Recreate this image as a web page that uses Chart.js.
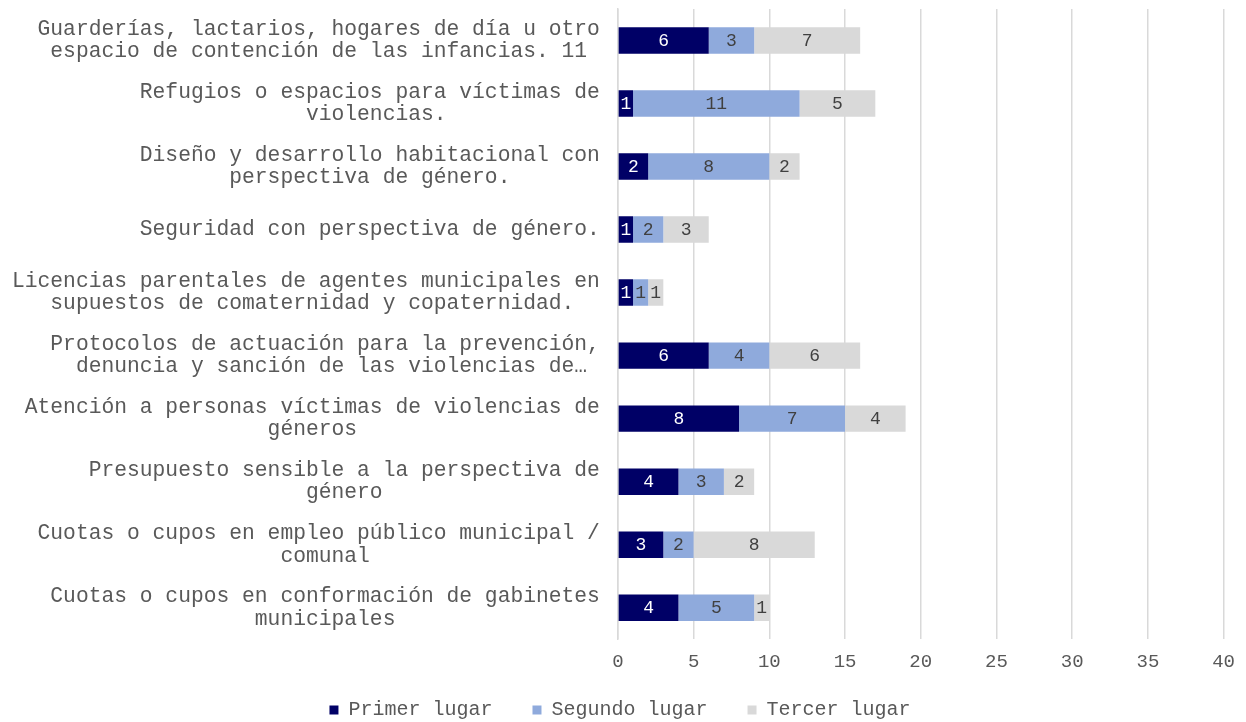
<!DOCTYPE html>
<html>
<head>
<meta charset="utf-8">
<script src="https://cdn.jsdelivr.net/npm/chart.js@4/dist/chart.umd.min.js"></script>
<style>
  html, body { margin: 0; padding: 0; background: #ffffff; }
  #wrap { width: 1246px; height: 722px; position: relative; }
</style>
</head>
<body>
<div id="wrap"><canvas id="c" width="1246" height="722"></canvas></div>
<script>
const categories = [
  ["Guarderías, lactarios, hogares de día u otro", "espacio de contención de las infancias. 11"],
  ["Refugios o espacios para víctimas de", "violencias."],
  ["Diseño y desarrollo habitacional con", "perspectiva de género."],
  ["Seguridad con perspectiva de género."],
  ["Licencias parentales de agentes municipales en", "supuestos de comaternidad y copaternidad."],
  ["Protocolos de actuación para la prevención,", "denuncia y sanción de las violencias de…"],
  ["Atención a personas víctimas de violencias de", "géneros"],
  ["Presupuesto sensible a la perspectiva de", "género"],
  ["Cuotas o cupos en empleo público municipal /", "comunal"],
  ["Cuotas o cupos en conformación de gabinetes", "municipales"]
];
const seriesNames = ["Primer lugar", "Segundo lugar", "Tercer lugar"];
const primerLugar  = [6, 1, 2, 1, 1, 6, 8, 4, 3, 4];
const segundoLugar = [3, 11, 8, 2, 1, 4, 7, 3, 2, 5];
const tercerLugar  = [7, 5, 2, 3, 1, 6, 4, 2, 8, 1];
const xTicks = [0, 5, 10, 15, 20, 25, 30, 35, 40];

const colors = ["#000066", "#8faadc", "#d9d9d9"];
const labelColors = ["#ffffff", "#404040", "#404040"];
const FONT = '"Liberation Mono", "DejaVu Sans Mono", monospace';

// centre each line within its label block (monospace font, right-aligned block)
function centerLines(lines) {
  const max = Math.max(...lines.map(l => l.length));
  return lines.map(l => l + " ".repeat(Math.floor((max - l.length) / 2)));
}

const barLabels = {
  id: 'barLabels',
  afterDatasetsDraw(chart) {
    const ctx = chart.ctx;
    ctx.save();
    ctx.font = '18px ' + FONT;
    ctx.textAlign = 'center';
    ctx.textBaseline = 'middle';
    chart.data.datasets.forEach((ds, i) => {
      const meta = chart.getDatasetMeta(i);
      meta.data.forEach((el, j) => {
        const v = ds.data[j];
        if (!v) return;
        const cx = (el.x + el.base) / 2;
        ctx.fillStyle = labelColors[i];
        ctx.fillText(String(v), cx, el.y + 1);
      });
    });
    ctx.restore();
  }
};

new Chart(document.getElementById('c'), {
  type: 'bar',
  data: {
    labels: categories.map(centerLines),
    datasets: [
      { label: seriesNames[0], data: primerLugar, backgroundColor: colors[0] },
      { label: seriesNames[1], data: segundoLugar, backgroundColor: colors[1] },
      { label: seriesNames[2], data: tercerLugar, backgroundColor: colors[2] }
    ]
  },
  options: {
    indexAxis: 'y',
    responsive: false,
    animation: false,
    layout: { padding: { left: 12, right: 18, top: 9, bottom: -8 } },
    datasets: { bar: { categoryPercentage: 1, barPercentage: 0.42 } },
    scales: {
      x: {
        stacked: true,
        min: 0, max: 40,
        afterBuildTicks(scale) { scale.ticks = xTicks.map(v => ({ value: v })); },
        grid: { color: '#d9d9d9', lineWidth: 1.5, drawTicks: false },
        border: { display: false },
        ticks: {
          color: '#595959',
          padding: 11,
          font: { family: FONT, size: 19 }
        }
      },
      y: {
        stacked: true,
        afterFit(scale) { scale.paddingTop = 0; scale.paddingBottom = 0; },
        grid: { display: true, drawOnChartArea: false, drawTicks: true, tickLength: 18, color: 'rgba(0,0,0,0)' },
        border: { display: true, color: '#d9d9d9', width: 1.5 },
        ticks: {
          color: '#595959',
          padding: 0,
          autoSkip: false,
          font: { family: FONT, size: 21.3, lineHeight: 1.05 }
        }
      }
    },
    plugins: {
      legend: {
        position: 'bottom',
        labels: {
          color: '#595959',
          boxWidth: 9,
          boxHeight: 9,
          padding: 16,
          font: { family: FONT, size: 20 },
          generateLabels(chart) {
            const items = Chart.defaults.plugins.legend.labels.generateLabels(chart);
            items.forEach((it, i) => { if (i < items.length - 1) it.text = it.text + '  '; });
            return items;
          }
        }
      },
      tooltip: { enabled: false }
    }
  },
  plugins: [barLabels]
});
</script>
</body>
</html>
